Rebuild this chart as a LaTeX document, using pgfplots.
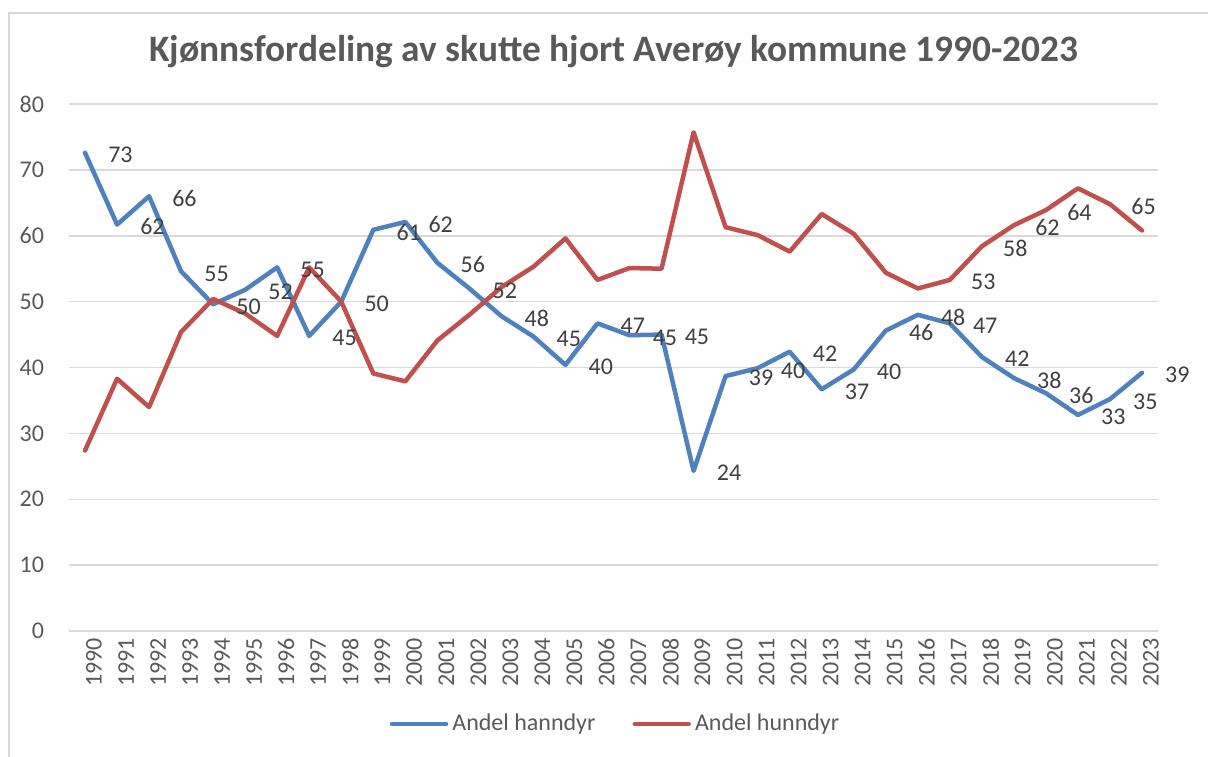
\documentclass[border=0pt]{standalone}
\usepackage{fontspec}
\setmainfont{Carlito}
\usepackage{pgfplots}
\pgfplotsset{compat=1.18}
\usepackage{pgfplotstable}
\definecolor{hblue}{HTML}{4F81BD}
\definecolor{hred}{HTML}{C0504D}
\definecolor{gridc}{HTML}{D9D9D9}
\definecolor{txt}{HTML}{595959}
\definecolor{lbl}{HTML}{404040}

\pgfplotstableread{
year blue bl
1990 72.6 73
1991 61.7 62
1992 66.0 66
1993 54.6 55
1994 49.6 50
1995 51.8 52
1996 55.2 55
1997 44.8 45
1998 50.0 50
1999 60.9 61
2000 62.1 62
2001 55.9 56
2002 52.0 52
2003 47.8 48
2004 44.7 45
2005 40.4 40
2006 46.7 47
2007 44.9 45
2008 45.0 45
2009 24.3 24
2010 38.7 39
2011 39.9 40
2012 42.4 42
2013 36.7 37
2014 39.7 40
2015 45.6 46
2016 48.0 48
2017 46.7 47
2018 41.6 42
2019 38.4 38
2020 36.1 36
2021 32.8 33
2022 35.2 35
2023 39.2 39
}\bluetab

\pgfplotstableread{
year red
1990 27.4
1991 38.3
1992 34.0
1993 45.4
1994 50.4
1995 48.2
1996 44.8
1997 55.2
1998 50.0
1999 39.1
2000 37.9
2001 44.1
2002 48.0
2003 52.2
2004 55.3
2005 59.6
2006 53.3
2007 55.1
2008 55.0
2009 75.7
2010 61.3
2011 60.1
2012 57.6
2013 63.3
2014 60.3
2015 54.4
2016 52.0
2017 53.3
2018 58.4
2019 61.6
2020 63.9
2021 67.2
2022 64.8
2023 60.8
}\redtab

\pgfplotstableread{
year red rl
2017 53.3 53
2018 58.4 58
2019 61.6 62
2020 63.9 64
2022 64.8 65
}\redlbl

\begin{document}
\begin{tikzpicture}
\useasboundingbox (0,0) rectangle (604pt,378pt);
\draw[gridc, line width=0.75pt] (4.5pt,-10pt) -- (4.5pt,371.5pt) -- (620pt,371.5pt);
\begin{axis}[
  at={(34.5pt,62.5pt)}, anchor=south west,
  scale only axis, width=544.5pt, height=263.5pt,
  xmin=1989.5, xmax=2023.5, ymin=0, ymax=80,
  xtick={1990,...,2023}, ytick={0,10,...,80},
  ymajorgrids, grid style={gridc, line width=0.75pt},
  axis line style={draw=none}, major tick length=0pt,
  tick label style={font=\fontsize{12}{14}\selectfont, text=txt},
  /pgf/number format/assume math mode=true,
  /pgf/number format/1000 sep={},
  xticklabel style={rotate=90, anchor=east, yshift=-4.5pt},
  yticklabel style={xshift=-9pt},
  clip=false,
  legend columns=2,
  legend style={at={(0.5028,-0.1765)}, anchor=center, draw=none, fill=none,
    font=\fontsize{12}{14}\selectfont, text=txt,
    /tikz/every even column/.append style={column sep=16.5pt}},
  legend cell align=left,
  legend image code/.code={\draw[#1, line cap=round] (0pt,0pt) -- (27pt,0pt);},
]
\addplot[hblue, line width=2.25pt, line join=round, line cap=round,
  nodes near coords, point meta=explicit symbolic,
  nodes near coords style={anchor=west, xshift=10.5pt, yshift=-1.1pt, inner sep=0pt,
    font=\fontsize{12}{14}\selectfont, text=lbl}]
  table[x=year, y=blue, meta=bl] {\bluetab};
\addlegendentry{Andel hanndyr}
\addplot[hred, line width=2.25pt, line join=round, line cap=round]
  table[x=year, y=red] {\redtab};
\addlegendentry{Andel hunndyr}
\addplot[draw=none, forget plot,
  nodes near coords, point meta=explicit symbolic,
  nodes near coords style={anchor=west, xshift=10.5pt, yshift=-1.1pt, inner sep=0pt,
    font=\fontsize{12}{14}\selectfont, text=lbl}]
  table[x=year, y=red, meta=rl] {\redlbl};
\end{axis}
\node[font=\fontsize{18.67}{22}\selectfont\bfseries, text=txt, anchor=base] at (307pt,347.2pt)
  {Kjønnsfordeling av skutte hjort Averøy kommune 1990-2023};
\end{tikzpicture}
\end{document}
